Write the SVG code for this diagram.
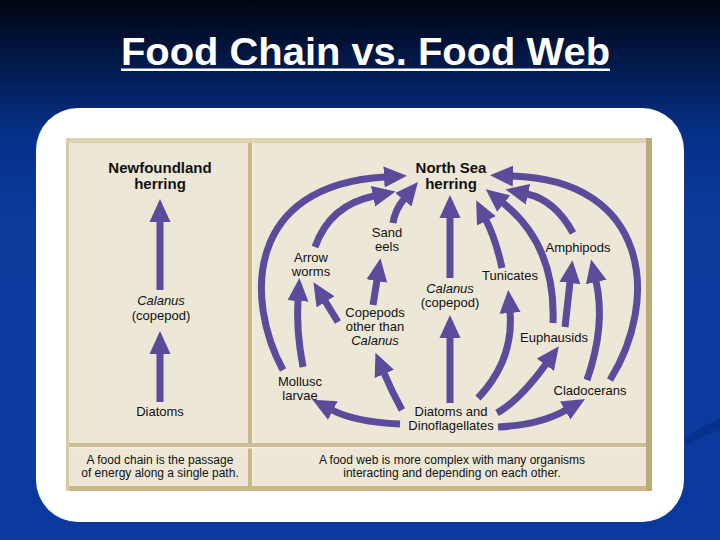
<svg xmlns="http://www.w3.org/2000/svg" width="720" height="540" viewBox="0 0 720 540">
<defs>
<linearGradient id="bg" x1="0" y1="0" x2="0" y2="1">
<stop offset="0" stop-color="#000510"/>
<stop offset="0.12" stop-color="#021a4c"/>
<stop offset="0.25" stop-color="#06318a"/>
<stop offset="0.4" stop-color="#0a3a9c"/>
<stop offset="1" stop-color="#0a3a9e"/>
</linearGradient>
<marker id="ah" markerUnits="userSpaceOnUse" markerWidth="24" markerHeight="22" viewBox="0 0 24 22" refX="1" refY="11" orient="auto">
<path d="M0,0.5 L23,11 L0,21.5 Z" fill="#5a4b9b"/>
</marker>
<style>
.t{font-family:"Liberation Sans",Arial,sans-serif;font-size:13px;fill:#111;text-anchor:middle}
.b{font-weight:bold;font-size:15px}
.i{font-style:italic}
.c{font-size:12px}
.a{fill:none;stroke:#5a4b9b;stroke-width:7;marker-end:url(#ah)}
</style>
</defs>
<rect width="720" height="540" fill="url(#bg)"/>
<path d="M684,440 C696,430 708,424 720,418 L720,430 C708,434 696,440 686,446 Z" fill="#07287a" opacity="0.45"/>
<text x="365.5" y="65" font-family="'Liberation Sans',Arial,sans-serif" font-size="39" font-weight="bold" fill="#ffffff" text-anchor="middle" textLength="489" lengthAdjust="spacingAndGlyphs">Food Chain vs. Food Web</text>
<rect x="121" y="68.5" width="489" height="2.5" fill="#ffffff"/>
<rect x="36" y="108" width="648" height="414" rx="42" ry="42" fill="#ffffff"/>
<g id="panel">
<rect x="66" y="138" width="586" height="353" fill="#ece7d7"/>
<rect x="66" y="138" width="586" height="5" fill="#ddd3b2"/>
<rect x="66" y="486" width="586" height="5" fill="#c8b88a"/>
<rect x="66" y="138" width="3" height="353" fill="#d6cca8"/>
<rect x="646" y="138" width="6" height="353" fill="#bba97a"/>
<rect x="248" y="143" width="4" height="343" fill="#c8b88a"/>
<rect x="252" y="143" width="1.5" height="343" fill="#f4f0e2"/>
<rect x="69" y="443" width="577" height="4" fill="#cdbf95"/>
<rect x="69" y="447" width="577" height="1.5" fill="#f4f0e2"/>
</g>
<g id="connectors">
<path class="a" d="M160,290 L160,221"/>
<path class="a" d="M160,402 L160,353"/>
<path class="a" d="M283,370 C245,300 245,185 385,177"/>
<path class="a" d="M315,247 Q330,205 374,196"/>
<path class="a" d="M393,223 Q395,210 404,199"/>
<path class="a" d="M450,278 L450,217"/>
<path class="a" d="M450,403 L450,337"/>
<path class="a" d="M373,305 L377,280"/>
<path class="a" d="M338,322 L325,301"/>
<path class="a" d="M303,367 Q296,330 298,300"/>
<path class="a" d="M402,410 Q392,392 384,373"/>
<path class="a" d="M400,424 Q355,422 332,410"/>
<path class="a" d="M610,380 C660,300 650,180 512,176"/>
<path class="a" d="M587,380 Q606,325 596,281"/>
<path class="a" d="M573,233 Q555,200 527,194"/>
<path class="a" d="M553,323 Q556,245 503,203"/>
<path class="a" d="M565,327 L570,282"/>
<path class="a" d="M502,268 Q496,240 486,220"/>
<path class="a" d="M478,398 Q514,360 510,312"/>
<path class="a" d="M497,413 Q520,400 546,364"/>
<path class="a" d="M498,427 Q540,425 566,410"/>
</g>
<g id="newfoundland-herring"><text class="t b" x="160" y="173">Newfoundland</text><text class="t b" x="160" y="189">herring</text></g>
<g id="chain-calanus"><text class="t i" x="161" y="305">Calanus</text><text class="t" x="161" y="320">(copepod)</text></g>
<g id="chain-diatoms"><text class="t" x="160" y="416">Diatoms</text></g>
<g id="chain-caption"><text class="t c" x="160" y="464">A food chain is the passage</text><text class="t c" x="160" y="477">of energy along a single path.</text></g>
<g id="north-sea-herring"><text class="t b" x="451" y="173">North Sea</text><text class="t b" x="451" y="189">herring</text></g>
<g id="sand-eels"><text class="t" x="387" y="237">Sand</text><text class="t" x="387" y="251">eels</text></g>
<g id="arrow-worms"><text class="t" x="311" y="262">Arrow</text><text class="t" x="311" y="276">worms</text></g>
<g id="amphipods"><text class="t" x="578" y="252">Amphipods</text></g>
<g id="tunicates"><text class="t" x="510" y="280">Tunicates</text></g>
<g id="web-calanus"><text class="t i" x="450" y="293">Calanus</text><text class="t" x="450" y="307">(copepod)</text></g>
<g id="copepods"><text class="t" x="375" y="317">Copepods</text><text class="t" x="375" y="331">other than</text><text class="t i" x="375" y="345">Calanus</text></g>
<g id="euphausids"><text class="t" x="554" y="342">Euphausids</text></g>
<g id="mollusc-larvae"><text class="t" x="300" y="386">Mollusc</text><text class="t" x="300" y="400">larvae</text></g>
<g id="cladocerans"><text class="t" x="590" y="395">Cladocerans</text></g>
<g id="diatoms-dinoflagellates"><text class="t" x="451" y="416">Diatoms and</text><text class="t" x="451" y="430">Dinoflagellates</text></g>
<g id="web-caption"><text class="t c" x="452" y="464">A food web is more complex with many organisms</text><text class="t c" x="452" y="477">interacting and depending on each other.</text></g>
</svg>
